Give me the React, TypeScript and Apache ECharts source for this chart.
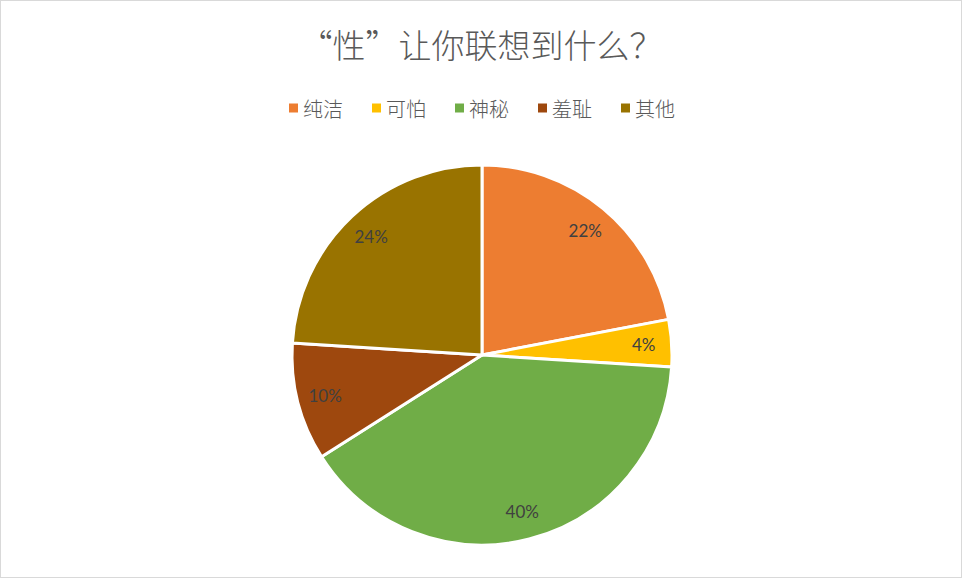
import React, { useEffect, useRef } from 'react';
import * as echarts from 'echarts';

const categories = ['纯洁', '可怕', '神秘', '羞耻', '其他'];
const shares = [22, 4, 40, 10, 24];
const colors = ['#ED7D31', '#FFC000', '#70AD47', '#9E480E', '#997300'];
const titleText = '“性”让你联想到什么？';

export default function App() {
  const ref = useRef<HTMLDivElement | null>(null);

  useEffect(() => {
    if (!ref.current) return undefined;
    const chart = echarts.init(ref.current, undefined, { renderer: 'svg' });
    const data = categories.map((name, i) => ({ name, value: shares[i] }));

    chart.setOption({
      animation: false,
      backgroundColor: '#ffffff',
      color: colors,
      title: {
        text: titleText,
        left: 'center',
        top: 21,
        textStyle: {
          fontFamily: 'Noto Sans CJK SC',
          fontSize: 33,
          fontWeight: 300,
          color: '#595959',
        },
      },
      legend: {
        top: 92,
        left: 'center',
        icon: 'rect',
        itemWidth: 11,
        itemHeight: 11,
        itemGap: 27,
        textStyle: {
          fontFamily: 'Noto Sans CJK SC',
          fontSize: 20,
          fontWeight: 300,
          color: '#595959',
          padding: [0, 0, 0, -1],
        },
        data: categories,
      },
      series: [
        {
          type: 'pie',
          center: [481, 354],
          radius: 190,
          startAngle: 90,
          clockwise: true,
          silent: true,
          label: { show: false },
          labelLine: { show: false },
          itemStyle: { borderColor: '#ffffff', borderWidth: 3 },
          data,
        },
        {
          // transparent ring that only carries the labels near the rim
          type: 'pie',
          center: [481, 354],
          radius: [128, 190],
          startAngle: 90,
          clockwise: true,
          silent: true,
          legendHoverLink: false,
          itemStyle: { color: 'rgba(0,0,0,0)' },
          label: {
            show: true,
            position: 'inside',
            formatter: '{c}%',
            fontFamily: 'Lato',
            fontSize: 17,
            color: '#404040',
          },
          labelLine: { show: false },
          data,
        },
      ],
    });

    return () => {
      chart.dispose();
    };
  }, []);

  return (
    <div
      ref={ref}
      style={{
        position: 'fixed',
        left: 0,
        top: 0,
        width: 962,
        height: 578,
        boxSizing: 'border-box',
        border: '1px solid #d9d9d9',
      }}
    />
  );
}
